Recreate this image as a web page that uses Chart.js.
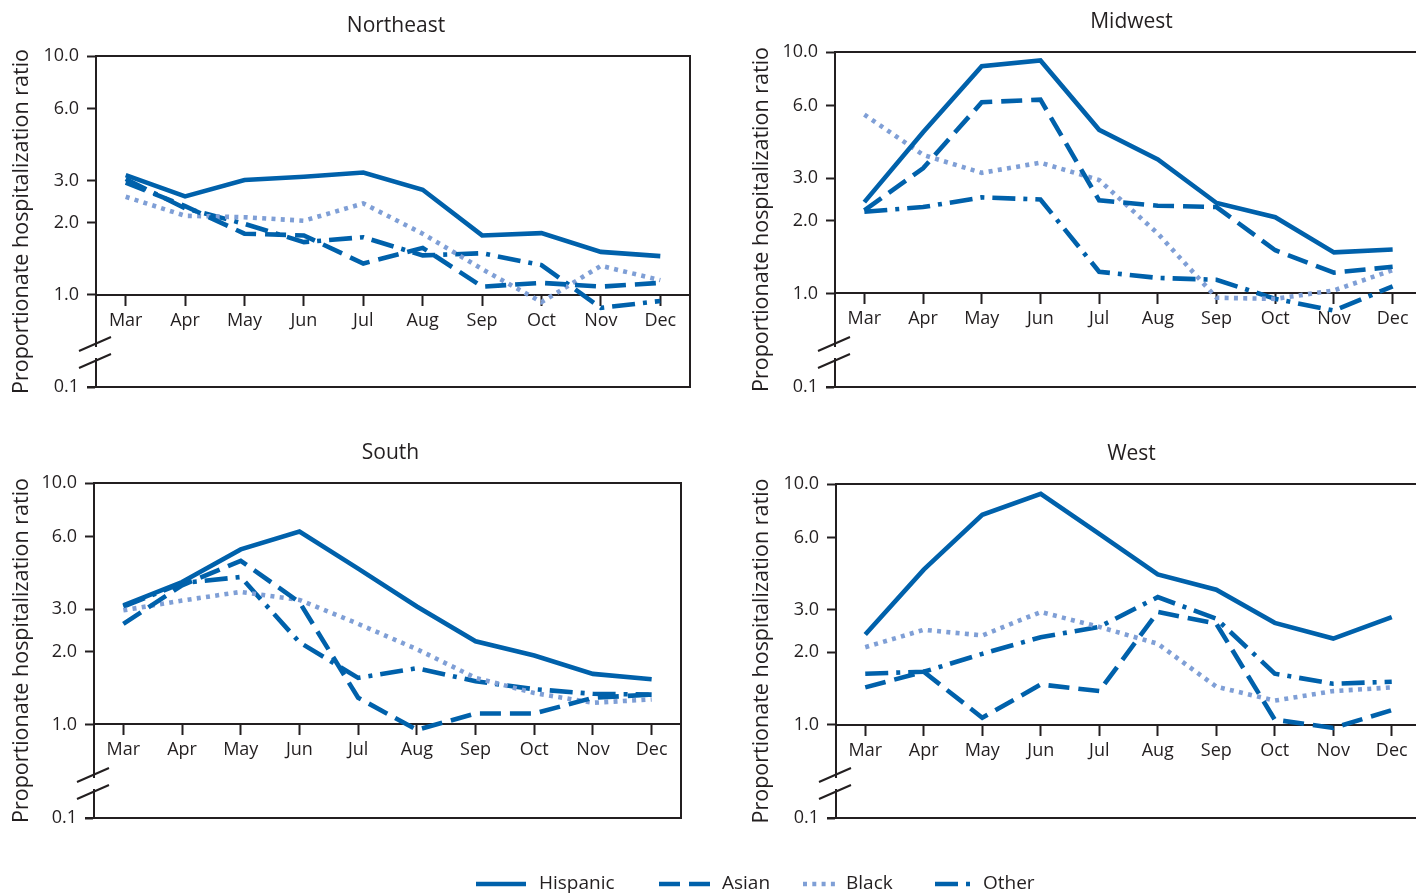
<!DOCTYPE html>
<html>
<head>
<meta charset="utf-8">
<title>Proportionate hospitalization ratio by region</title>
<script src="https://cdn.jsdelivr.net/npm/chart.js@4.4.1/dist/chart.umd.min.js"></script>
<style>
    html, body { margin: 0; padding: 0; background: #fff; overflow: hidden; width: 1416px; height: 894px; }
    canvas { position: absolute; }
    #legend { position: absolute; left: 0; top: 866px; }
</style>
</head>
<body>
<canvas id="northeast"></canvas>
<canvas id="midwest"></canvas>
<canvas id="south"></canvas>
<canvas id="west"></canvas>
<svg id="legend" width="1416" height="30" font-family="'Open Sans', sans-serif" font-size="19" fill="#231f20">
    <line x1="476" y1="18" x2="526" y2="18" stroke="#0061ab" stroke-width="4.5"/>
    <text x="539" y="18" dominant-baseline="middle">Hispanic</text>
    <line x1="659" y1="18" x2="710" y2="18" stroke="#0061ab" stroke-width="4.5" stroke-dasharray="21 9"/>
    <text x="722" y="18" dominant-baseline="middle">Asian</text>
    <line x1="803" y1="18" x2="835" y2="18" stroke="#7f9fd6" stroke-width="4.5" stroke-dasharray="4 5.3"/>
    <text x="846" y="18" dominant-baseline="middle">Black</text>
    <line x1="935" y1="18" x2="970" y2="18" stroke="#0061ab" stroke-width="4.5" stroke-dasharray="23 8 4 100"/>
    <text x="983" y="18" dominant-baseline="middle">Other</text>
</svg>
<script>
// ===== Data =====
const MONTHS = ['Mar', 'Apr', 'May', 'Jun', 'Jul', 'Aug', 'Sep', 'Oct', 'Nov', 'Dec'];
const SERIES = ['Hispanic', 'Asian', 'Black', 'Other'];

// broken log axis: the bottom edge stands for 0.1
const Y_MIN = 0.41;
const Y_TICKS = [Y_MIN, 1, 2, 3, 6, 10];
const Y_TICK_LABELS = ['0.1', '1.0', '2.0', '3.0', '6.0', '10.0'];

const northeastHispanic = [3.17, 2.58, 3.02, 3.12, 3.25, 2.75, 1.77, 1.81, 1.51, 1.45];
const northeastAsian    = [2.95, 2.35, 1.80, 1.77, 1.35, 1.57, 1.08, 1.12, 1.08, 1.12];
const northeastBlack    = [2.57, 2.14, 2.11, 2.04, 2.41, 1.80, 1.28, 0.93, 1.32, 1.15];
const northeastOther    = [3.05, 2.30, 1.98, 1.66, 1.74, 1.46, 1.49, 1.33, 0.88, 0.94];

const midwestHispanic = [2.39, 4.65, 8.74, 9.23, 4.76, 3.59, 2.37, 2.07, 1.48, 1.52];
const midwestAsian    = [2.21, 3.30, 6.19, 6.35, 2.43, 2.31, 2.28, 1.51, 1.22, 1.29];
const midwestBlack    = [5.50, 3.75, 3.16, 3.48, 2.95, 1.77, 0.96, 0.95, 1.03, 1.25];
const midwestOther    = [2.18, 2.28, 2.50, 2.45, 1.23, 1.16, 1.14, 0.95, 0.85, 1.07];

const southHispanic = [3.11, 3.89, 5.31, 6.29, 4.42, 3.08, 2.21, 1.93, 1.62, 1.54];
const southAsian    = [2.61, 3.77, 4.76, 3.21, 1.29, 0.95, 1.11, 1.11, 1.29, 1.33];
const southBlack    = [2.97, 3.26, 3.54, 3.28, 2.61, 2.05, 1.56, 1.35, 1.23, 1.27];
const southOther    = [3.08, 3.85, 4.08, 2.19, 1.56, 1.71, 1.51, 1.40, 1.34, 1.33];

const westHispanic = [2.37, 4.41, 7.45, 9.10, 6.21, 4.21, 3.64, 2.65, 2.28, 2.80];
const westAsian    = [1.43, 1.66, 1.07, 1.47, 1.38, 2.94, 2.63, 1.05, 0.97, 1.15];
const westBlack    = [2.10, 2.48, 2.35, 2.94, 2.55, 2.17, 1.44, 1.26, 1.38, 1.43];
const westOther    = [1.63, 1.66, 1.97, 2.31, 2.55, 3.39, 2.76, 1.63, 1.48, 1.51];

// ===== Styles =====
const INK = '#231f20';
const DARK = '#0061ab';
const LIGHT = '#7f9fd6';
const FONT = "'Open Sans', sans-serif";

const seriesStyle = {
    Hispanic: { borderColor: DARK,  borderDash: [] },
    Asian:    { borderColor: DARK,  borderDash: [21, 9] },
    Black:    { borderColor: LIGHT, borderDash: [4, 5.3] },
    Other:    { borderColor: DARK,  borderDash: [23, 8, 4, 8] }
};

// frame, axis break and panel title
const framePlugin = {
    id: 'frame',
    afterDraw(chart, args, opts) {
        const { ctx, chartArea: a } = chart;
        ctx.save();
        ctx.strokeStyle = INK;
        ctx.lineWidth = 2;
        ctx.beginPath();
        ctx.moveTo(a.left, a.top); ctx.lineTo(a.right, a.top);
        ctx.lineTo(a.right, a.bottom); ctx.lineTo(a.left - 9, a.bottom);
        ctx.stroke();

        const x = a.left, y1 = a.bottom - 43, y2 = a.bottom - 26;
        ctx.fillStyle = '#fff';
        ctx.fillRect(x - 3, y1 + 3, 6, y2 - y1 - 6);
        ctx.beginPath();
        [y1, y2].forEach(y => { ctx.moveTo(x - 17, y + 7); ctx.lineTo(x + 15, y - 7); });
        ctx.stroke();

        ctx.fillStyle = INK;
        ctx.font = `21px ${FONT}`;
        ctx.textAlign = 'center';
        ctx.textBaseline = 'middle';
        ctx.fillText(opts.title, (a.left + a.right) / 2 + 3, a.top - 30);
        ctx.restore();
    }
};

function makePanel(id, title, values, box, area) {
    const canvas = document.getElementById(id);
    canvas.width = box.w; canvas.height = box.h;
    canvas.style.left = box.x + 'px'; canvas.style.top = box.y + 'px';
    canvas.style.width = box.w + 'px'; canvas.style.height = box.h + 'px';

    new Chart(canvas, {
        type: 'line',
        data: {
            labels: MONTHS,
            datasets: SERIES.map((name, i) => ({
                label: name, data: values[i],
                borderColor: seriesStyle[name].borderColor,
                borderDash: seriesStyle[name].borderDash,
                borderWidth: 4.6, borderCapStyle: 'butt', borderJoinStyle: 'miter',
                pointRadius: 0, tension: 0, fill: false
            }))
        },
        options: {
            responsive: false, animation: false, devicePixelRatio: 1,
            layout: { padding: { left: 0, top: area.top - box.y, right: box.x + box.w - area.right, bottom: box.y + box.h - area.bottom } },
            plugins: { legend: { display: false }, tooltip: { enabled: false }, frame: { title } },
            scales: {
                x: {
                    type: 'category', offset: true, position: { y: 1 },
                    ticks: { color: INK, font: { family: FONT, size: 18 }, padding: 5, maxRotation: 0, autoSkip: false },
                    grid: { drawOnChartArea: false, tickLength: 10, tickWidth: 2, color: INK },
                    border: { display: true, color: INK, width: 2 }
                },
                y: {
                    type: 'logarithmic', min: Y_MIN, max: 10,
                    afterBuildTicks: s => { s.ticks = Y_TICKS.map(v => ({ value: v })); },
                    afterFit: s => { s.width = area.left - box.x; },
                    ticks: { autoSkip: false, color: INK, padding: 8, font: { family: FONT, size: 18 },
                             callback: (v, i) => Y_TICK_LABELS[i] },
                    grid: { drawOnChartArea: false, tickLength: 9, tickWidth: 2, color: INK },
                    border: { display: true, color: INK, width: 2 },
                    title: { display: true, text: 'Proportionate hospitalization ratio', color: INK,
                             font: { family: FONT, size: 21.5 }, padding: 9 }
                }
            }
        },
        plugins: [framePlugin]
    });
}

makePanel('northeast', 'Northeast', [northeastHispanic, northeastAsian, northeastBlack, northeastOther],
    { x: 0, y: 0, w: 708, h: 430 }, { left: 96, top: 56, right: 690, bottom: 387 });
makePanel('midwest', 'Midwest', [midwestHispanic, midwestAsian, midwestBlack, midwestOther],
    { x: 740, y: 0, w: 700, h: 430 }, { left: 835, top: 52, right: 1422, bottom: 387 });
makePanel('south', 'South', [southHispanic, southAsian, southBlack, southOther],
    { x: 0, y: 430, w: 708, h: 440 }, { left: 94, top: 483, right: 681, bottom: 818 });
makePanel('west', 'West', [westHispanic, westAsian, westBlack, westOther],
    { x: 740, y: 430, w: 700, h: 440 }, { left: 836, top: 484, right: 1421, bottom: 818 });
</script>
</body>
</html>
